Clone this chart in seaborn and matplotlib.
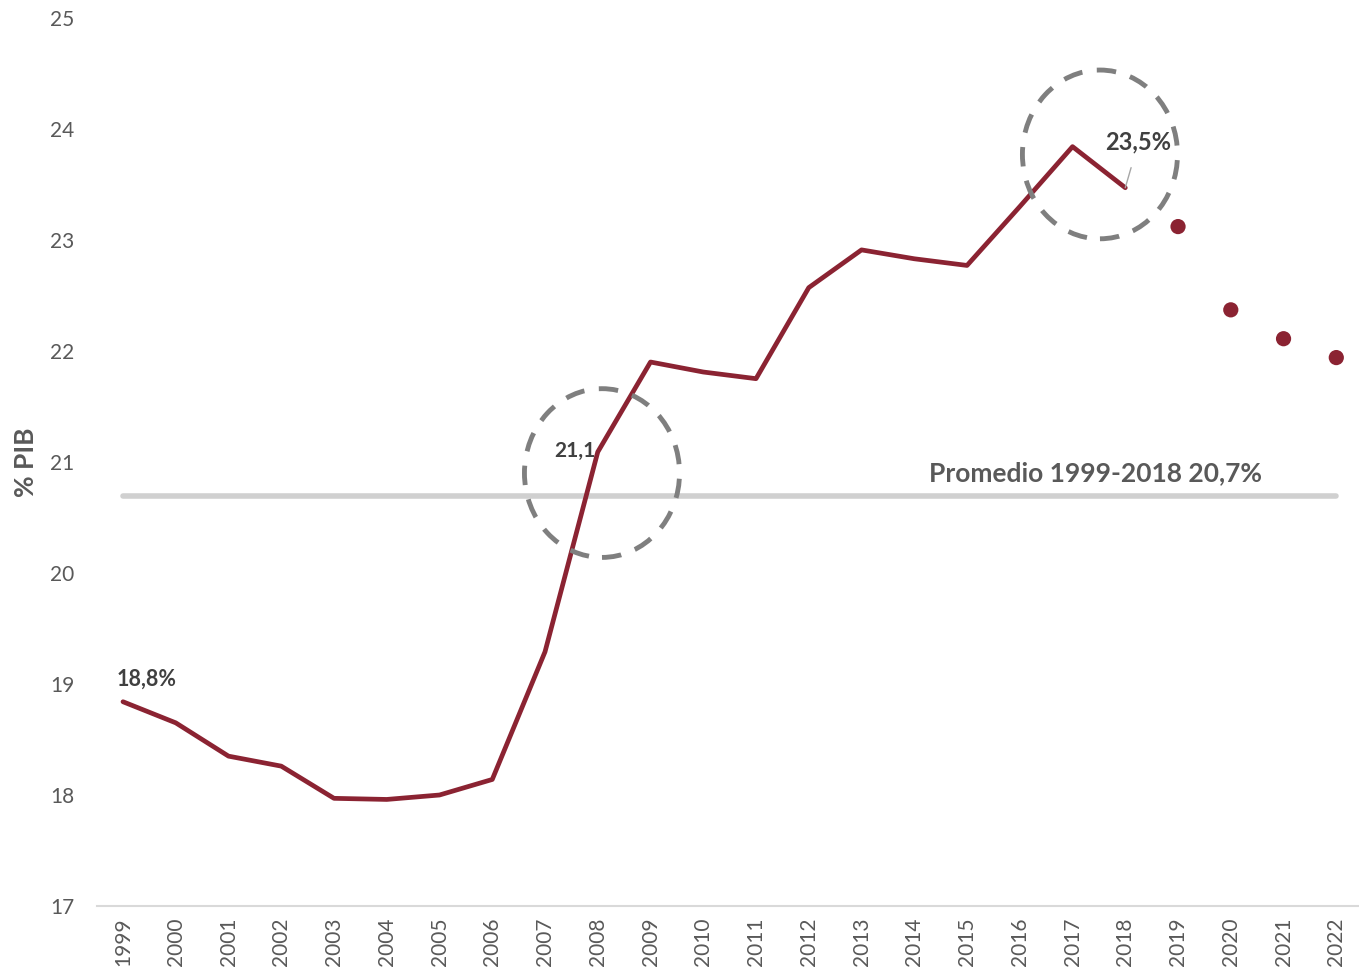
import numpy as np
import pandas as pd
import matplotlib.pyplot as plt
import seaborn as sns
from matplotlib.patches import Ellipse

# datos
years_hist = [1999, 2000, 2001, 2002, 2003, 2004, 2005, 2006, 2007, 2008,
              2009, 2010, 2011, 2012, 2013, 2014, 2015, 2016, 2017, 2018]
pib_hist = [18.84, 18.65, 18.35, 18.26, 17.97, 17.96, 18.0, 18.14, 19.29, 21.09,
            21.9, 21.81, 21.75, 22.57, 22.91, 22.83, 22.77, 23.3, 23.84, 23.47]
years_proj = [2019, 2020, 2021, 2022]
pib_proj = [23.12, 22.37, 22.11, 21.94]
promedio = 20.69
all_years = years_hist + years_proj

RED = '#8B2332'
GREY = '#595959'

sns.set_theme(style='white')
plt.rcParams['font.family'] = ['Lato', 'DejaVu Sans']

hist = pd.DataFrame({'year': years_hist, 'pib': pib_hist})
proj = pd.DataFrame({'year': years_proj, 'pib': pib_proj})

fig = plt.figure(figsize=(13.59, 9.76), dpi=100)
ax = fig.add_axes([0.0711, 0.0717, 0.9316, 0.91])

# linea promedio
ax.plot([all_years[0], all_years[-1]], [promedio, promedio], color='#D0D0D0',
        lw=4, solid_capstyle='round', zorder=1)

sns.lineplot(data=hist, x='year', y='pib', color=RED, lw=3.4, ax=ax, zorder=3)
sns.scatterplot(data=proj, x='year', y='pib', color=RED, s=120, edgecolor='none',
                ax=ax, zorder=3)

# circulos punteados
for cx, cy in [(2008.08, 20.9), (2017.52, 23.77)]:
    ax.add_patch(Ellipse((cx, cy), 2.94, 1.52, fill=False, ec='#7F7F7F', lw=3.5,
                         ls=(0, (4, 3)), zorder=4))

ax.text(1999.45, 18.95, '18,8%', ha='center', va='bottom', fontsize=15.5,
        fontweight='bold', color='#404040')
ax.text(2007.95, 21.1, '21,1', ha='right', va='center', fontsize=15,
        fontweight='bold', color='#404040')
ax.annotate('23,5%', xy=(2018, 23.47), xytext=(2018.25, 23.88), ha='center',
            va='center', fontsize=17, fontweight='bold', color='#404040',
            arrowprops=dict(arrowstyle='-', color='#A6A6A6', lw=1,
                            shrinkA=8, shrinkB=0))
ax.text(2017.43, 20.9, 'Promedio 1999-2018 20,7%', ha='center', va='center',
        fontsize=19, fontweight='bold', color=GREY)

ax.set_xlim(1998.5, 2022.5)
ax.set_ylim(17, 25)
ax.set_xticks(all_years)
ax.set_xticklabels([str(y) for y in all_years], rotation=90)
ax.set_yticks(range(17, 26))
ax.tick_params(axis='both', colors=GREY, labelsize=15, length=0)
ax.tick_params(axis='y', pad=16)
ax.tick_params(axis='x', pad=8)
ax.set_xlabel('')
ax.set_ylabel('% PIB', fontsize=19, fontweight='bold', color=GREY, labelpad=9)

for s in ['top', 'right', 'left']:
    ax.spines[s].set_visible(False)
ax.spines['bottom'].set_color('#D9D9D9')
ax.spines['bottom'].set_linewidth(1.5)

fig.savefig('out.png', dpi=100)
